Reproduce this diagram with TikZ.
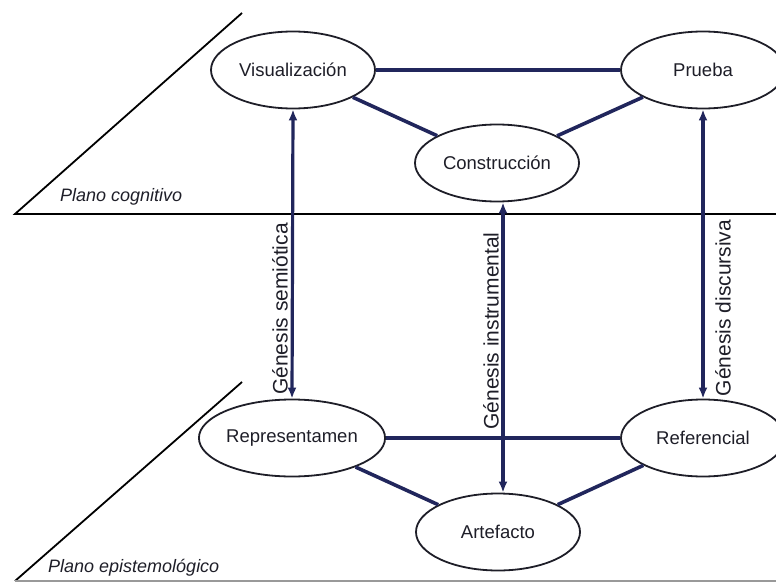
\documentclass[tikz,border=0pt]{standalone}
\usepackage{fontspec}
\setmainfont{Liberation Sans}
\usetikzlibrary{shapes.geometric,arrows.meta}
\definecolor{navy}{RGB}{33,38,92}
\definecolor{ink}{RGB}{30,30,40}
\begin{document}
\begin{tikzpicture}[x=1pt,y=-1pt,
  concept/.style={ellipse,draw=ink,line width=1.8pt,minimum width=164pt,minimum height=77pt,inner sep=0pt,font=\fontsize{18.5}{20}\selectfont,text=ink},
  link/.style={draw=navy,line width=3.6pt},
  genesis/.style={draw=navy,line width=3.2pt,{Latex[length=11pt,width=9pt]}-{Latex[length=11pt,width=9pt]}},
  lbl/.style={rotate=90,font=\fontsize{21}{23}\selectfont,text=ink,inner sep=0pt},
  planelbl/.style={font=\fontsize{18}{20}\selectfont\itshape,text=ink,inner sep=0pt,anchor=west},
  plane/.style={line width=1.8pt,draw=black},
]
\useasboundingbox (0,0) rectangle (776,583);
\clip (0,0) rectangle (776,583);

% planes
\coordinate (c0) at (15,214);
\coordinate (c1) at (242,13);
\coordinate (c2) at (776,214);
\draw[plane] (c1) -- (c0) -- (c2);
\coordinate (e0) at (15,581);
\coordinate (e1) at (242,382);
\coordinate (e2) at (776,581);
\draw[plane] (e1) -- (e0);
\draw[line width=1.2pt,draw=black!40] (e0) -- (e2);
\node[planelbl] (pc) at (60,197) {Plano cognitivo};
\node[planelbl] (pe) at (48,568) {Plano epistemológico};

% concepts
\node[concept] (vis) at (293,70) {Visualización};
\node[concept] (pru) at (703,70) {Prueba};
\node[concept] (con) at (497,163) {Construcción};
\node[concept] (rep) at (292,438) {Representamen};
\node[concept] (ref) at (703,438) {Referencial};
\node[concept] (art) at (498,532) {Artefacto};

% links
\draw[link] (vis) -- (pru);
\draw[link] (vis) -- (con);
\draw[link] (pru) -- (con);
\draw[link] (rep) -- (ref);
\draw[link] (rep) -- (art);
\draw[link] (ref) -- (art);

% genesis arrows
\draw[genesis] (vis.south) -- (rep.north);
\draw[genesis] ([xshift=6pt]con.south) -- ([xshift=5pt]art.north);
\draw[genesis] (pru.south) -- (ref.north);

\node[lbl] (gs) at (280,309) {Génesis semiótica};
\node[lbl] (gi) at (491,331) {Génesis instrumental};
\node[lbl] (gd) at (723,308) {Génesis discursiva};
\end{tikzpicture}
\end{document}
